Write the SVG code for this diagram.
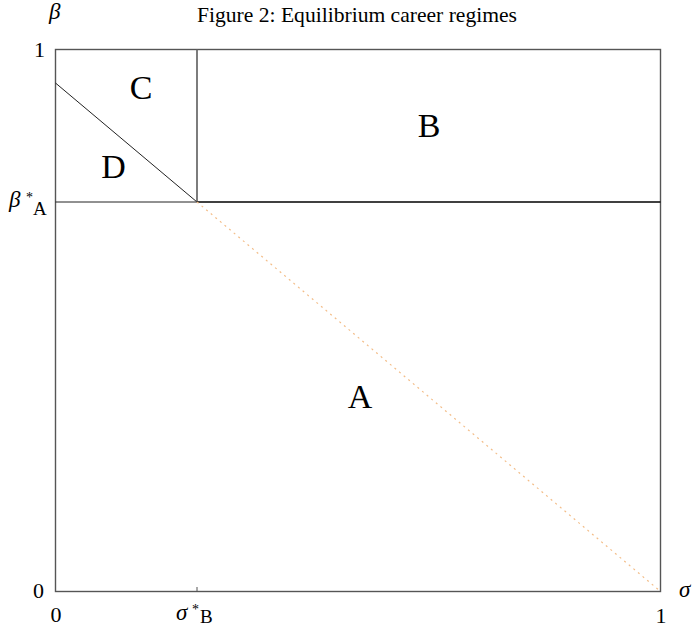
<svg xmlns="http://www.w3.org/2000/svg" width="695" height="631" viewBox="0 0 695 631">
<style>
.t{font-family:"Liberation Serif","Times New Roman",serif;fill:#000}
.lbl{font-size:34px;text-anchor:middle}
.num{font-size:22px}
.it{font-style:italic}
.frame{fill:none;stroke:#555;stroke-width:1.4}
.bd{stroke:#000;stroke-width:1.6;fill:none}
.thin{stroke:#222;stroke-width:1;fill:none}
</style>
<rect width="695" height="631" fill="#fff"/>
<text class="t" x="197" y="22" font-size="21.5" textLength="320" lengthAdjust="spacingAndGlyphs">Figure 2: Equilibrium career regimes</text>
<g id="axes">
  <rect class="frame" x="55.5" y="49.5" width="605" height="542"/>
  <line x1="197" y1="592" x2="197" y2="587" stroke="#555" stroke-width="1"/>
  <text class="t it" x="49" y="19" font-size="23">β</text>
  <text class="t num" x="34" y="57">1</text>
  <text class="t num" x="33" y="598">0</text>
  <text class="t num" x="56" y="622" text-anchor="middle">0</text>
  <text class="t num" x="661" y="623" text-anchor="middle">1</text>
  <text class="t it" x="679" y="597" font-size="23">σ</text>
  <text class="t" x="9" y="207"><tspan class="it" font-size="23">β</tspan><tspan x="26" y="202" font-size="14">*</tspan><tspan x="33" y="215" font-size="19">A</tspan></text>
  <text class="t" x="176" y="620"><tspan class="it" font-size="23">σ</tspan><tspan x="192" y="614" font-size="14">*</tspan><tspan x="200" y="623" font-size="19">B</tspan></text>
</g>
<g id="connectors">
  <line class="thin" x1="55.5" y1="83" x2="197" y2="202"/>
  <line x1="197" y1="49.5" x2="197" y2="202" stroke="#666" stroke-width="1.7"/>
  <line class="thin" x1="55.5" y1="202" x2="197" y2="202"/>
  <line class="bd" x1="197" y1="202" x2="660.5" y2="202"/>
  <line x1="197" y1="202" x2="660" y2="591" stroke="#f3bd88" stroke-width="1.2" stroke-dasharray="2 4"/>
</g>
<g id="region-A"><text class="t lbl" x="360" y="408">A</text></g>
<g id="region-B"><text class="t lbl" x="429" y="137">B</text></g>
<g id="region-C"><text class="t lbl" x="141" y="99">C</text></g>
<g id="region-D"><text class="t lbl" x="113.5" y="178">D</text></g>
</svg>
